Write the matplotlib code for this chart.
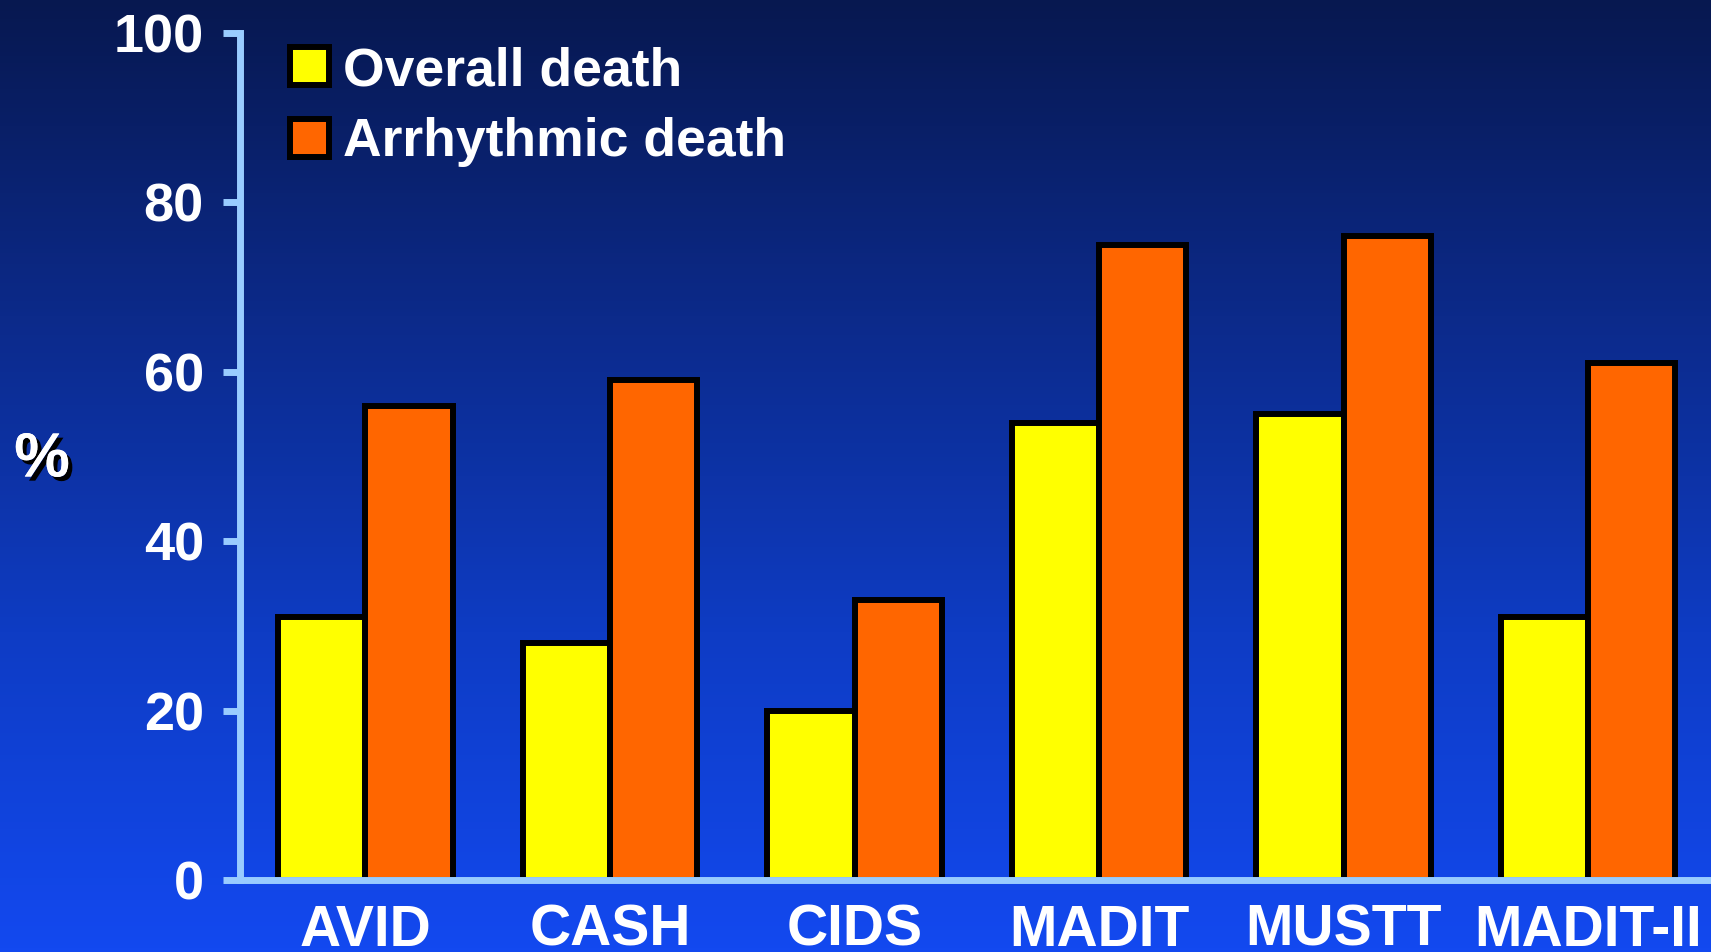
import numpy as np
import matplotlib
matplotlib.use("Agg")
import matplotlib.pyplot as plt
import matplotlib.patheffects as pe
from matplotlib.colors import LinearSegmentedColormap

trials = ["AVID", "CASH", "CIDS", "MADIT", "MUSTT", "MADIT-II"]
overall_death = [31, 28, 20, 54, 55, 31]
arrhythmic_death = [56, 59, 33, 75, 76, 61]
series_labels = ["Overall death", "Arrhythmic death"]
y_ticks = [0, 20, 40, 60, 80, 100]

plt.rcParams["font.family"] = ["Liberation Sans", "DejaVu Sans"]
plt.rcParams["font.weight"] = "bold"

W, H, DPI = 1711, 952, 100
fig = plt.figure(figsize=(W / DPI, H / DPI), dpi=DPI)

# vertical background gradient: dark navy at top to bright blue at bottom
bg = fig.add_axes([0, 0, 1, 1], zorder=-10)
grad_cmap = LinearSegmentedColormap.from_list(
    "bg", ["#071850", "#0c2a8a", "#0e3cc4", "#1349f0"])
bg.imshow(np.linspace(0, 1, 256).reshape(-1, 1), aspect="auto",
          cmap=grad_cmap, extent=[0, 1, 0, 1], origin="upper")
bg.set_axis_off()

ax = fig.add_axes([240 / W, 1 - 880 / H, (1708 - 240) / W, (880 - 33) / H])
ax.set_facecolor("none")

x = np.arange(len(trials))
bw = 0.357
edge_kw = dict(edgecolor="black", linewidth=4.3, zorder=3)
ax.bar(x - bw / 2, overall_death, bw, color="#ffff00",
       label=series_labels[0], **edge_kw)
ax.bar(x + bw / 2, arrhythmic_death, bw, color="#ff6600",
       label=series_labels[1], **edge_kw)

ax.set_xlim(-0.513, len(trials) - 0.51)
ax.set_ylim(0, 100)
ax.set_yticks(y_ticks)
ax.set_yticklabels([str(v) for v in y_ticks])
ax.set_xticks(x)
ax.set_xticklabels(trials)

axis_col = "#99ccff"
for side in ("top", "right"):
    ax.spines[side].set_visible(False)
for side in ("left", "bottom"):
    ax.spines[side].set_color(axis_col)
    ax.spines[side].set_linewidth(5)
    ax.spines[side].set_zorder(4)

ax.tick_params(axis="y", colors=axis_col, length=12, width=5,
               direction="out", pad=14, labelcolor="white", labelsize=39)
ax.tick_params(axis="x", length=0, pad=17, labelcolor="white", labelsize=41)
for lab in ax.get_xticklabels() + ax.get_yticklabels():
    lab.set_fontweight("bold")

leg = ax.legend(loc="upper left", bbox_to_anchor=(290 / W, 1 - 46 / H),
                bbox_transform=fig.transFigure, frameon=False,
                fontsize=38.5, handlelength=0.72, handleheight=0.72,
                handletextpad=0.28, labelspacing=0.4, borderpad=0,
                borderaxespad=0)
for t in leg.get_texts():
    t.set_color("white")
    t.set_fontweight("bold")

fig.text(42 / W, 1 - 460 / H, "%", color="white", fontsize=45,
         fontweight="bold", ha="center", va="center",
         path_effects=[pe.withSimplePatchShadow(offset=(3, -3),
                                                shadow_rgbFace="black",
                                                alpha=1.0),
                       pe.Normal()])

fig.savefig("out.png", dpi=DPI)
